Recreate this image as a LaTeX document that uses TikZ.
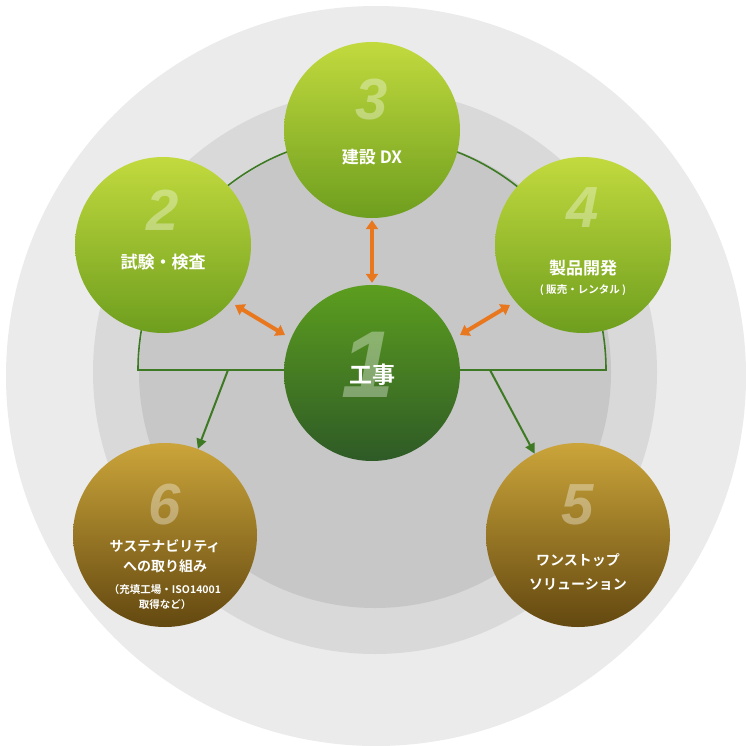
\documentclass[tikz,border=0pt]{standalone}
\usepackage{fontspec}
\newfontfamily\cjk{Noto Sans CJK JP}[BoldFont={Noto Sans CJK JP Bold}]
\newfontfamily\numf{Liberation Sans}
\usetikzlibrary{arrows.meta}
\definecolor{gA}{HTML}{C2DA3E}\definecolor{gB}{HTML}{6E9E1E}
\definecolor{dA}{HTML}{5C9E1F}\definecolor{dB}{HTML}{2E5A26}
\definecolor{bA}{HTML}{CBA53A}\definecolor{bB}{HTML}{634810}
\definecolor{org}{HTML}{E8771E}\definecolor{lin}{HTML}{3E7A24}
\begin{document}
\begin{tikzpicture}[x=1pt,y=-1pt,
 ball/.style={circle,inner sep=0,minimum size=#1},
 green/.style={ball=176,top color=gA,bottom color=gB,draw=none},
 dark/.style={ball=176,top color=dA,bottom color=dB,draw=none},
 brown/.style={ball=184,top color=bA,bottom color=bB,draw=none},
 num/.style={font=\numf\bfseries\itshape\fontsize{58}{58}\selectfont,text=white,text opacity=0.35},
 lab/.style={font=\cjk\bfseries\fontsize{17}{20}\selectfont,text=white,align=center},
 sub/.style={font=\cjk\bfseries\fontsize{10.5}{15}\selectfont,text=white,align=center},
 oarr/.style={draw=org,line width=4pt,{Triangle[length=9pt,width=12pt]}-{Triangle[length=9pt,width=12pt]}},
 garr/.style={draw=lin,line width=2pt,-{Triangle[length=10pt,width=10pt]}}]
\useasboundingbox (0,0) rectangle (746,746);
\fill[black!8] (376,376) circle (370);
\fill[black!15] (375,372) circle (282);
\fill[black!22] (375,372) circle (236);
\draw[lin,line width=1.6pt] (138,370) arc[start angle=180,end angle=360,radius=234] -- cycle;
\coordinate (s6) at (228,370); \coordinate (s5) at (490,370);
\node[green] (n2) at (163,245) {};
\node[green] (n3) at (372,130) {};
\node[green] (n4) at (583,245) {};
\node[dark] (n1) at (372,373) {};
\node[brown] (n6) at (165,535) {};
\node[brown] (n5) at (578,535) {};
\draw[garr] (s6) -- (n6);
\draw[garr] (s5) -- (n5);
\draw[oarr,shorten <=2pt,shorten >=2pt] (n3) -- (n1);
\draw[oarr] (235,305) -- (285,335);
\draw[oarr] (510,305) -- (460,335);
\node[num] (m1) at (368,365) {\fontsize{95}{95}\selectfont 1};
\node[num] (m2) at (163,210) {2};
\node[num] (m3) at (372,100) {3};
\node[num] (m4) at (583,208) {4};
\node[num] (m6) at (165,505) {6};
\node[num] (m5) at (578,505) {5};
\node[lab,font=\cjk\bfseries\fontsize{23}{26}\selectfont] (t1) at (372,375) {工事};
\node[lab] (t2) at (163,262) {試験・検査};
\node[lab] (t3) at (372,157) {建設 DX};
\node[lab] (t4) at (583,268) {製品開発};
\node[sub] (t4b) at (583,290) {( 販売・レンタル )};
\node[lab,font=\cjk\bfseries\fontsize{14}{20}\selectfont] (t6) at (165,556) {サステナビリティ\\への取り組み};
\node[sub] (t6b) at (165,597) {（充填工場・ISO14001\\取得など）};
\node[lab,font=\cjk\bfseries\fontsize{14}{24}\selectfont] (t5) at (578,572) {ワンストップ\\ソリューション};
\end{tikzpicture}
\end{document}
